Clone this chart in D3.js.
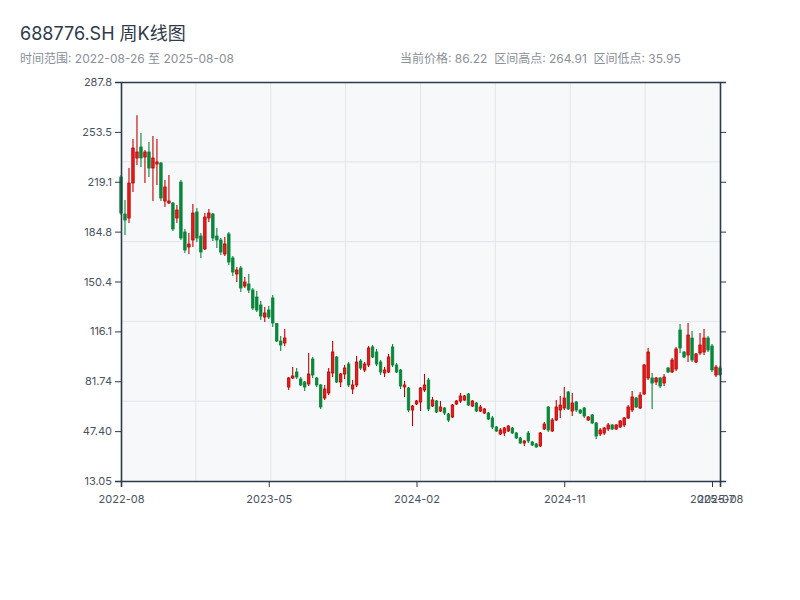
<!DOCTYPE html>
<html><head><meta charset="utf-8">
<script src="https://cdn.jsdelivr.net/npm/d3@7/dist/d3.min.js"></script>
<style>
html,body{margin:0;padding:0;background:#fff;}
text{font-family:Inter,"Noto Sans CJK SC",sans-serif;}
</style></head>
<body><svg id="chart" width="800" height="600"></svg>
<script>
const stockCode = "688776.SH";
const chartTitle = "周K线图";
const dates = [
"2022-08-26","2022-09-02","2022-09-09","2022-09-16","2022-09-23","2022-09-30","2022-10-14","2022-10-21","2022-10-28","2022-11-04",
"2022-11-11","2022-11-18","2022-11-25","2022-12-02","2022-12-09","2022-12-16","2022-12-23","2022-12-30","2023-01-06","2023-01-13",
"2023-01-20","2023-02-03","2023-02-10","2023-02-17","2023-02-24","2023-03-03","2023-03-10","2023-03-17","2023-03-24","2023-03-31",
"2023-04-07","2023-04-14","2023-04-21","2023-04-28","2023-05-05","2023-05-12","2023-05-19","2023-05-26","2023-06-02","2023-06-09",
"2023-06-16","2023-06-23","2023-06-30","2023-07-07","2023-07-14","2023-07-21","2023-07-28","2023-08-04","2023-08-11","2023-08-18",
"2023-08-25","2023-09-01","2023-09-08","2023-09-15","2023-09-22","2023-09-28","2023-10-13","2023-10-20","2023-10-27","2023-11-03",
"2023-11-10","2023-11-17","2023-11-24","2023-12-01","2023-12-08","2023-12-15","2023-12-22","2023-12-29","2024-01-05","2024-01-12",
"2024-01-19","2024-01-26","2024-02-02","2024-02-08","2024-02-23","2024-03-01","2024-03-08","2024-03-15","2024-03-22","2024-03-29",
"2024-04-03","2024-04-12","2024-04-19","2024-04-26","2024-04-30","2024-05-10","2024-05-17","2024-05-24","2024-05-31","2024-06-07",
"2024-06-14","2024-06-21","2024-06-28","2024-07-05","2024-07-12","2024-07-19","2024-07-26","2024-08-02","2024-08-09","2024-08-16",
"2024-08-23","2024-08-30","2024-09-06","2024-09-13","2024-09-20","2024-09-27","2024-09-30","2024-10-11","2024-10-18","2024-10-25",
"2024-11-01","2024-11-08","2024-11-15","2024-11-22","2024-11-29","2024-12-06","2024-12-13","2024-12-20","2024-12-27","2025-01-03",
"2025-01-10","2025-01-17","2025-01-24","2025-01-27","2025-02-07","2025-02-14","2025-02-21","2025-02-28","2025-03-07","2025-03-14",
"2025-03-21","2025-03-28","2025-04-03","2025-04-11","2025-04-18","2025-04-25","2025-04-30","2025-05-09","2025-05-16","2025-05-23",
"2025-05-30","2025-06-06","2025-06-13","2025-06-20","2025-06-27","2025-07-04","2025-07-11","2025-07-18","2025-07-25","2025-08-01",
"2025-08-08"];
const opens = [222.38,196.91,194.15,218.25,235.47,243.05,236.16,239.60,228.58,231.34,232.03,205.86,204.48,204.48,194.15,218.94,184.52,174.18,179.01,198.28,
181.76,172.81,194.15,196.91,181.76,179.01,169.37,183.14,166.61,155.59,159.72,147.33,148.71,144.58,139.76,134.25,125.98,130.80,139.07,121.50,
109.46,108.08,77.79,83.98,88.11,83.29,81.22,79.85,97.06,83.98,79.16,70.20,73.66,87.42,98.44,81.22,86.73,93.62,76.40,79.16,
95.68,89.49,92.93,105.33,101.88,94.99,87.42,88.11,105.33,92.93,89.49,77.79,77.10,61.94,66.08,67.45,75.72,82.60,64.70,68.14,
61.25,63.32,59.19,57.12,66.08,68.14,68.83,72.97,64.70,66.77,61.25,59.88,59.88,56.43,50.25,45.43,46.11,47.49,49.56,46.11,
42.67,39.23,46.11,39.91,38.54,37.16,48.87,64.01,47.49,55.06,61.94,63.32,74.34,61.25,67.45,61.94,63.32,55.06,58.50,53.00,
45.43,46.11,48.87,51.62,48.87,50.25,51.62,56.43,61.94,70.20,63.32,72.97,83.98,83.98,81.22,83.98,80.53,90.87,88.11,90.18,
117.03,101.88,99.82,111.52,94.99,101.20,101.88,111.52,106.02,86.04,90.87];
const highs = [223.76,206.55,228.58,248.55,264.91,252.69,240.98,246.49,250.62,248.55,232.72,220.32,223.76,205.17,203.11,220.32,186.58,183.83,203.79,201.04,
183.83,197.59,200.35,197.59,187.27,180.38,181.07,184.52,167.99,160.41,161.10,153.53,155.59,145.96,143.89,137.00,132.87,133.56,141.13,121.86,
112.90,117.72,84.67,91.56,90.87,84.67,81.91,101.20,98.44,84.67,79.85,79.16,90.87,109.46,99.13,87.42,92.93,94.99,82.60,99.13,
97.06,94.99,106.02,106.70,103.95,96.37,91.56,100.51,107.39,94.30,90.18,81.91,77.79,65.39,68.83,77.79,86.73,83.98,70.90,68.83,
68.14,64.01,59.88,66.08,68.83,73.66,72.29,73.66,68.83,67.45,65.39,63.32,60.57,57.81,50.93,49.56,50.25,51.62,50.25,46.80,
43.36,41.29,47.49,40.60,39.23,46.80,53.68,64.70,56.43,68.83,71.59,77.79,75.03,73.66,68.14,62.64,64.01,57.81,59.19,53.68,
49.56,50.25,53.00,52.31,52.31,55.06,57.12,65.39,75.03,70.90,74.34,93.62,104.64,87.42,84.67,84.67,86.73,91.56,97.75,105.33,
121.16,102.57,121.86,116.34,101.20,114.97,117.72,112.90,107.39,92.93,92.24];
const lows = [196.22,182.45,190.71,212.06,230.65,229.27,218.25,222.39,205.86,216.88,205.86,201.73,203.79,185.20,190.71,179.01,170.05,169.37,174.18,177.63,
166.61,172.12,191.40,178.32,173.50,168.68,167.99,161.79,154.22,150.08,143.20,145.96,142.51,130.80,129.43,123.92,122.55,124.61,119.10,108.77,
102.57,106.02,75.72,83.29,83.29,78.47,75.03,78.47,83.98,77.79,62.64,68.83,72.29,84.67,80.53,77.79,83.29,77.79,72.97,77.79,
89.49,88.11,91.56,97.75,92.24,86.04,84.67,87.42,91.56,87.42,76.40,70.90,60.57,50.93,65.39,61.25,74.34,61.25,64.01,59.88,
60.57,58.50,53.68,56.43,65.39,66.77,68.14,64.70,64.01,60.57,60.57,59.19,55.06,48.87,46.80,44.74,44.05,46.80,45.43,41.98,
38.54,37.16,39.23,37.16,35.95,36.47,48.18,46.80,46.80,54.37,56.43,61.94,61.94,57.81,60.57,59.19,56.43,54.37,52.31,41.98,
44.05,44.74,47.49,48.18,48.18,49.56,50.25,55.75,60.57,63.32,62.64,72.29,82.60,62.64,79.16,77.10,78.47,87.42,87.42,88.80,
101.20,97.75,94.99,94.99,94.30,99.82,99.82,101.88,88.11,84.67,85.53];
const closes = [197.59,192.77,218.25,242.35,239.60,235.47,239.60,228.58,235.47,232.72,207.93,215.50,205.86,186.58,199.66,180.38,172.12,176.25,197.59,180.38,
170.74,194.84,197.59,180.38,179.01,170.74,176.25,163.86,156.97,158.35,145.96,150.08,144.58,132.18,130.80,126.67,128.74,125.98,121.86,109.46,
106.70,111.52,83.98,85.36,84.67,79.16,77.79,86.73,86.04,79.16,64.01,76.40,88.11,101.88,81.22,86.73,90.87,79.16,79.16,94.99,
90.87,93.62,104.64,98.44,93.62,88.11,89.49,98.44,92.93,88.11,78.47,79.16,61.94,64.70,68.14,77.10,79.16,62.64,68.83,60.57,
64.01,59.88,55.06,65.39,68.14,71.59,71.59,65.39,68.14,61.25,64.01,62.63,55.75,50.25,47.49,48.18,49.56,50.93,46.11,42.67,
39.23,40.60,40.60,37.85,36.47,46.11,52.31,48.18,55.06,64.01,65.39,70.20,62.64,66.77,61.94,59.88,57.81,57.12,53.00,44.05,
48.18,49.56,51.62,48.87,51.62,54.37,56.43,64.01,70.90,64.01,72.29,92.93,101.88,80.53,83.98,78.47,84.67,88.11,96.37,103.95,
104.64,98.44,113.59,96.37,100.51,106.70,111.52,103.26,89.49,91.56,86.22];

const svg = d3.select("#chart");
const W = 800, H = 600;
const margin = {top: 82, right: 80, bottom: 119, left: 121};
const iw = W - margin.left - margin.right, ih = H - margin.top - margin.bottom;
const N = dates.length;
const data = dates.map((d, i) => ({date: d, o: opens[i], h: highs[i], l: lows[i], c: closes[i]}));

const hiV = d3.max(highs), loV = d3.min(lows), pad = (hiV - loV) * 0.1;
const y0 = loV - pad, y1 = hiV + pad;
const fontFam = "Inter,'Noto Sans CJK SC',sans-serif";

// Title & subtitle
svg.append("text").attr("x", 20).attr("y", 40).attr("font-size", 18).attr("fill", "#2f3a4a")
  .text(stockCode + " " + chartTitle);
svg.append("text").attr("x", 20).attr("y", 63).attr("font-size", 12).attr("fill", "#8a9099")
  .text("时间范围: " + dates[0] + " 至 " + dates[N - 1]);
svg.append("text").attr("x", 400).attr("y", 63).attr("font-size", 12).attr("fill", "#8a9099")
  .attr("xml:space", "preserve").style("white-space", "pre")
  .text("当前价格: " + closes[N - 1].toFixed(2) + "  区间高点: " + hiV.toFixed(2) + "  区间低点: " + loV.toFixed(2));

const g = svg.append("g").attr("transform", `translate(${margin.left},${margin.top})`);
const x = d3.scaleLinear().domain([0, N - 1]).range([0, iw]);
const y = d3.scaleLinear().domain([y0, y1]).range([ih, 0]);

g.append("rect").attr("width", iw).attr("height", ih).attr("fill", "#f6f8fa");

// grid
const grid = g.append("g").attr("stroke", "#e1e5ea").attr("stroke-width", 1);
d3.range(1, 8).forEach(k => grid.append("line").attr("x1", iw * k / 8).attr("x2", iw * k / 8).attr("y1", 0).attr("y2", ih));
d3.range(1, 5).forEach(k => grid.append("line").attr("y1", ih * k / 5).attr("y2", ih * k / 5).attr("x1", 0).attr("x2", iw));

// candles
const step = iw / (N - 1);
const bw = Math.max(1, step * 0.62);
const upStroke = "#c40000", upFill = "#e01e1e", downColor = "#08873a";
const cg = g.append("g");
const cand = cg.selectAll("g.c").data(data).join("g").attr("class", "c");
cand.append("line")
  .attr("x1", (d, i) => x(i)).attr("x2", (d, i) => x(i))
  .attr("y1", d => y(d.h)).attr("y2", d => y(d.l))
  .attr("stroke", d => d.c >= d.o ? upStroke : downColor).attr("stroke-width", 1.1);
cand.append("rect")
  .attr("x", (d, i) => x(i) - bw / 2)
  .attr("y", d => y(Math.max(d.o, d.c)))
  .attr("width", bw)
  .attr("height", d => Math.max(1, Math.abs(y(d.o) - y(d.c))))
  .attr("fill", d => d.c >= d.o ? upFill : downColor)
  .attr("stroke", d => d.c >= d.o ? upStroke : downColor)
  .attr("stroke-width", 0.8);

// axes
const yTicks = d3.range(9).map(k => y0 + k * (y1 - y0) / 8);
const fmt = d3.format(".4r");
const axisColor = "#2c3a4b";
const yAxis = g.append("g").call(d3.axisLeft(y).tickValues(yTicks).tickFormat(fmt).tickSize(6));
const yAxisR = g.append("g").attr("transform", `translate(${iw},0)`).call(d3.axisRight(y).tickValues(yTicks).tickFormat("").tickSize(6));
const tStep = Math.floor(N / 4);
const xTicks = d3.range(0, N, tStep).concat([N - 1]);
const xAxis = g.append("g").attr("transform", `translate(0,${ih})`)
  .call(d3.axisBottom(x).tickValues(xTicks).tickFormat(i => dates[i].slice(0, 7)).tickSize(6));
const xAxisTop = g.append("g").call(d3.axisTop(x).tickValues([]).tickSizeOuter(0));
[yAxis, yAxisR, xAxis, xAxisTop].forEach(a => {
  a.select(".domain").attr("stroke", axisColor).attr("stroke-width", 1.6);
  a.selectAll(".tick line").attr("stroke", axisColor);
  a.selectAll(".tick text").attr("fill", "#4a5260").attr("font-size", 11)
    .attr("font-family", fontFam);
});
xAxis.selectAll(".tick text").attr("dy", "1.2em");
</script></body></html>
